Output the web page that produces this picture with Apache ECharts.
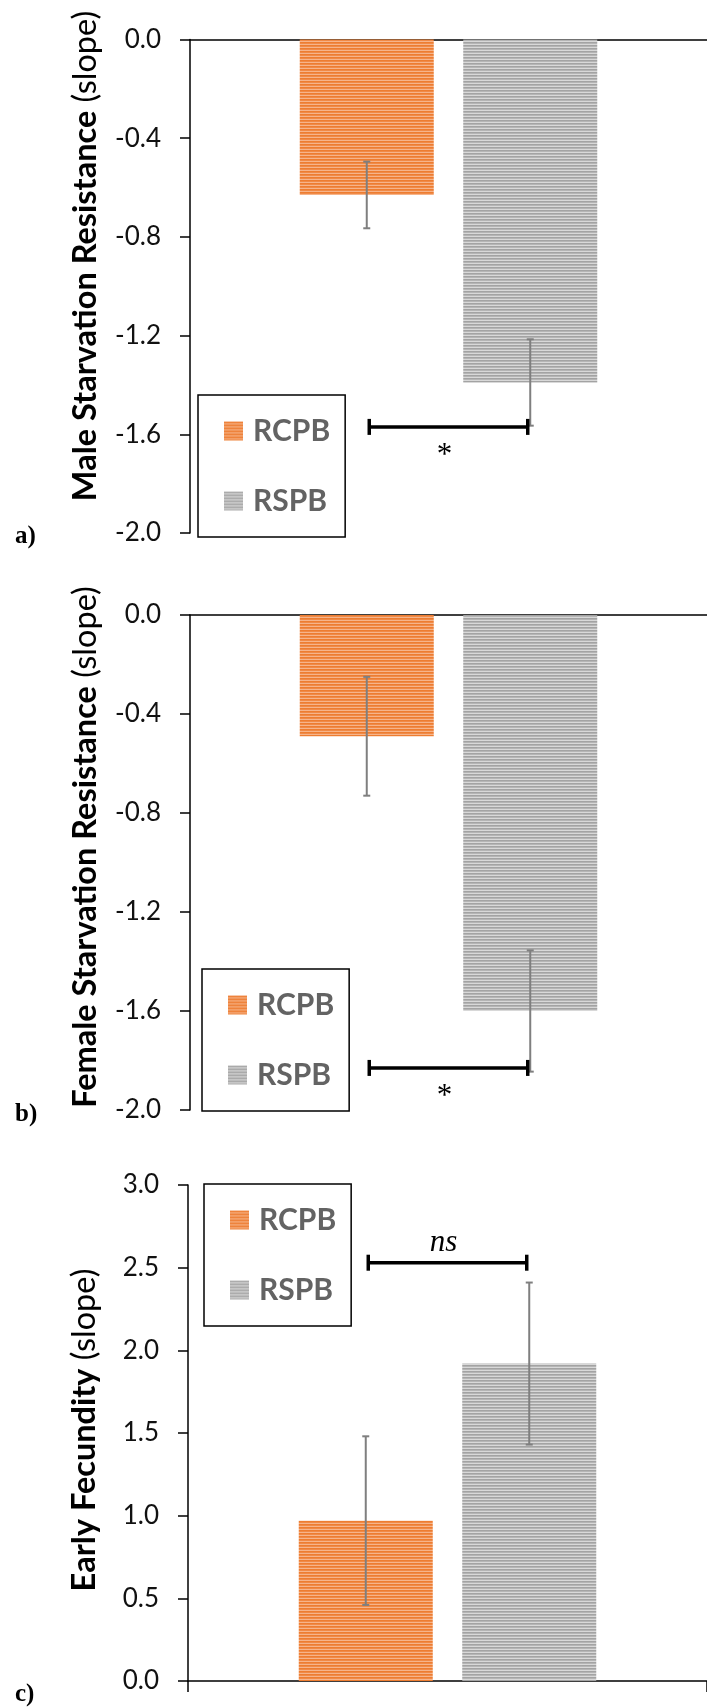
<!DOCTYPE html>
<html>
<head>
<meta charset="utf-8">
<script src="https://cdn.jsdelivr.net/npm/echarts@6/dist/echarts.min.js"></script>
<style>
  html, body { margin: 0; padding: 0; background: #fff; }
  #chart { width: 707px; height: 1708px; }
</style>
</head>
<body>
<div id="chart"></div>
<script>
// ---- data ----
const categories = ['Selection regime'];
const seriesNames = ['RCPB', 'RSPB'];

const maleMeans = [-0.63, -1.39];
const maleErr = [0.135, 0.175];
const femaleMeans = [-0.49, -1.60];
const femaleErr = [0.24, 0.245];
const fecundityMeans = [0.97, 1.92];
const fecundityErr = [0.51, 0.49];

const maleTicks = ['-2.0', '-1.6', '-1.2', '-0.8', '-0.4', '0.0'];
const femaleTicks = ['-2.0', '-1.6', '-1.2', '-0.8', '-0.4', '0.0'];
const fecundityTicks = ['0.0', '0.5', '1.0', '1.5', '2.0', '2.5', '3.0'];

const bracketValues = [-1.57, -1.83, 2.53];
const bracketMarks = ['*', '*', 'ns'];

const titleBold = ['Male Starvation Resistance', 'Female Starvation Resistance', 'Early Fecundity'];
const titleUnit = '(slope)';
const panelTags = ['a)', 'b)', 'c)'];

// ---- layout ----
const BAR_W = 134;
const BAR_GAP = 0.22;
const TICK_FONT = 'Lato';

const panels = [
  { grid: { left: 190, top: 39.5, width: 520, height: 493.5 }, ticks: maleTicks, means: maleMeans, errs: maleErr,
    legendPos: { left: 198, top: 395 }, title: { x: 86, y: 256 }, tag: { x: 15, y: 537 }, markBelow: true },
  { grid: { left: 190, top: 615, width: 524, height: 495 }, ticks: femaleTicks, means: femaleMeans, errs: femaleErr,
    legendPos: { left: 202, top: 969 }, title: { x: 86, y: 847 }, tag: { x: 15, y: 1115 }, markBelow: true },
  { grid: { left: 188, top: 1185, width: 524, height: 496 }, ticks: fecundityTicks, means: fecundityMeans, errs: fecundityErr,
    legendPos: { left: 204, top: 1184 }, title: { x: 85, y: 1430 }, tag: { x: 15, y: 1695 }, markBelow: false }
];

// striped fills for the bars
function stripes(colors) {
  const c = document.createElement('canvas');
  c.width = 4; c.height = colors.length;
  const g = c.getContext('2d');
  colors.forEach((col, i) => { g.fillStyle = col; g.fillRect(0, i, 4, 1); });
  return { image: c, repeat: 'repeat' };
}
const fills = [
  stripes(['#ED7D31', '#F08A47', '#F6B48A']),
  stripes(['#A3A3A3', '#B5B5B5', '#D8D8D8'])
];

function tickText(v) {
  const n = Number(v);
  return (Math.abs(n) < 1e-9 ? 0 : n).toFixed(1);
}

const chart = echarts.init(document.getElementById('chart'), null, { renderer: 'canvas' });

const grids = [], xAxes = [], yAxes = [], series = [], legends = [], graphics = [];
const pairOffset = BAR_W * (1 + BAR_GAP) / 2;

panels.forEach((p, gi) => {
  const tickNums = p.ticks.map(Number);
  const ymin = Math.min(...tickNums), ymax = Math.max(...tickNums);
  grids.push(Object.assign({ containLabel: false }, p.grid));
  xAxes.push({
    type: 'category', gridIndex: gi, data: categories,
    axisLine: { onZero: true, lineStyle: { color: '#000', width: 1.5 } },
    axisTick: { show: gi === 2, length: 11, lineStyle: { color: '#000', width: 1.5 } },
    axisLabel: { show: false }, splitLine: { show: false }
  });
  yAxes.push({
    type: 'value', gridIndex: gi, min: ymin, max: ymax, interval: tickNums[1] - tickNums[0],
    axisLine: { show: true, onZero: false, lineStyle: { color: '#000', width: 1.5 } },
    axisTick: { show: true, length: 10, lineStyle: { color: '#000', width: 1.5 } },
    axisLabel: { margin: 29, color: '#111', fontFamily: TICK_FONT, fontSize: 26, formatter: tickText },
    splitLine: { show: false }
  });

  seriesNames.forEach((name, si) => {
    series.push({
      type: 'bar', name, xAxisIndex: gi, yAxisIndex: gi,
      data: [p.means[si]], barWidth: BAR_W, barGap: (BAR_GAP * 100) + '%',
      itemStyle: { color: fills[si] }, silent: true, z: 2
    });
  });

  // error bars
  series.push({
    type: 'custom', xAxisIndex: gi, yAxisIndex: gi, z: 5, silent: true,
    data: p.means.map((m, i) => [0, m - p.errs[i], m + p.errs[i], i]),
    renderItem(params, api) {
      const lo = api.coord([api.value(0), api.value(1)]);
      const hi = api.coord([api.value(0), api.value(2)]);
      const x = lo[0] + (api.value(3) === 0 ? -pairOffset : pairOffset);
      const st = { stroke: '#7F7F7F', lineWidth: 2 };
      return { type: 'group', children: [
        { type: 'line', shape: { x1: x, y1: lo[1], x2: x, y2: hi[1] }, style: st },
        { type: 'line', shape: { x1: x - 3.5, y1: lo[1], x2: x + 3.5, y2: lo[1] }, style: st },
        { type: 'line', shape: { x1: x - 3.5, y1: hi[1], x2: x + 3.5, y2: hi[1] }, style: st }
      ] };
    }
  });

  // significance bracket between the two groups
  series.push({
    type: 'custom', xAxisIndex: gi, yAxisIndex: gi, z: 6, silent: true,
    data: [[0, bracketValues[gi]]],
    renderItem(params, api) {
      const c = api.coord([api.value(0), api.value(1)]);
      const x1 = c[0] - pairOffset + 2.5, x2 = c[0] + pairOffset - 2.5, y = c[1];
      const st = { stroke: '#000', lineWidth: 3.5 };
      const below = p.markBelow;
      const mark = bracketMarks[gi];
      return { type: 'group', children: [
        { type: 'line', shape: { x1, y1: y, x2, y2: y }, style: st },
        { type: 'line', shape: { x1, y1: y - 8, x2: x1, y2: y + 8 }, style: st },
        { type: 'line', shape: { x1: x2, y1: y - 8, x2, y2: y + 8 }, style: st },
        { type: 'text', style: {
            text: mark, x: (x1 + x2) / 2 - 4, y: below ? y + 29 : y - 20,
            font: (mark === 'ns' ? 'italic ' : '') + '31px "Liberation Serif"',
            fill: '#000', align: 'center', verticalAlign: 'middle' } }
      ] };
    }
  });

  legends.push({
    data: seriesNames.map((n, si) => ({ name: n, itemStyle: { color: fills[si] } })),
    orient: 'vertical', left: p.legendPos.left, top: p.legendPos.top,
    selectedMode: false, icon: 'rect', itemWidth: 19, itemHeight: 19, itemGap: 40,
    padding: [21, 15, 21, 26], borderColor: '#000', borderWidth: 1.5, backgroundColor: '#fff',
    textStyle: { fontFamily: 'Lato', fontWeight: 'bold', fontSize: 30, color: '#636363',
      lineHeight: 30, padding: [0, 0, 0, 5] }
  });

  graphics.push({
    type: 'text', x: p.title.x, y: p.title.y, rotation: Math.PI / 2, silent: true,
    style: {
      text: '{b|' + titleBold[gi] + '}{r|\u00a0' + titleUnit + '}',
      align: 'center', verticalAlign: 'middle',
      rich: {
        b: { fontFamily: 'Lato', fontWeight: 'bold', fontSize: 32.5, fill: '#000', color: '#000' },
        r: { fontFamily: 'Lato', fontWeight: 'normal', fontSize: 32.5, fill: '#000', color: '#000' }
      }
    }
  });
  graphics.push({
    type: 'text', x: p.tag.x, y: p.tag.y, silent: true,
    style: { text: panelTags[gi], font: 'bold 25px "Liberation Serif"', fill: '#000',
      align: 'left', verticalAlign: 'middle' }
  });
});

chart.setOption({
  animation: false,
  backgroundColor: '#fff',
  grid: grids, xAxis: xAxes, yAxis: yAxes,
  legend: legends, series, graphic: graphics
});
</script>
</body>
</html>
